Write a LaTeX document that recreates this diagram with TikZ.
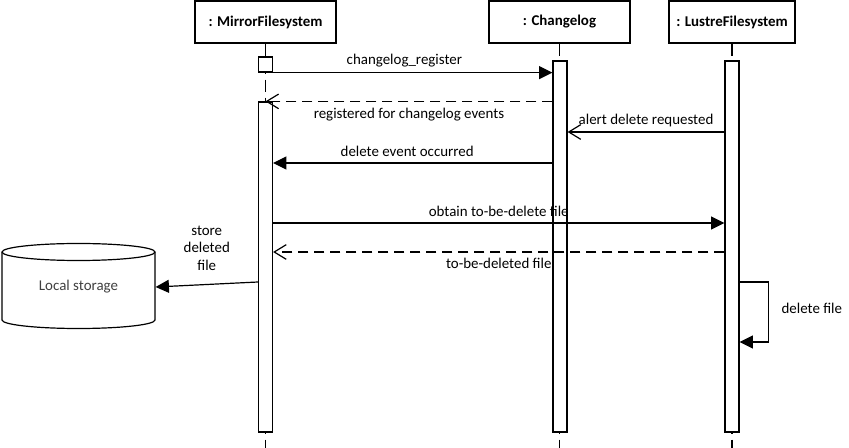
\documentclass[tikz,border=0pt]{standalone}
\usepackage{fontspec}
\setmainfont{Carlito}
\usetikzlibrary{arrows.meta}

\begin{document}
\begin{tikzpicture}[x=0.75pt,y=-0.75pt,line width=0.9pt,
  font=\fontsize{11.2}{13}\selectfont,
  head/.style={draw,fill=white,minimum width=105.75pt,minimum height=31.5pt,inner sep=0pt,font=\fontsize{11.2}{13}\selectfont\bfseries},
  bar/.style={draw,fill=white,minimum width=10.5pt,inner sep=0pt},
  life/.style={dash pattern=on 9pt off 4.5pt},
  call/.style={-{Triangle[length=10pt,width=9.75pt]}},
  ret/.style={-{Straight Barb[length=9pt,width=11pt]}},
  retdash/.style={ret,dash pattern=on 7.5pt off 4.5pt},
]
\useasboundingbox (0,0) rectangle (849,448);

%uncomment if require: \path (0,448);
\coordinate (bottom) at (0,448);

% Text Node
\node[head] (mfs) at (265.5,22) {: MirrorFilesystem};
\node[head] (cl) at (559.5,22) {: Changelog};
\node[head,minimum width=94.5pt] (lfs) at (732,22) {: LustreFilesystem};

%Straight Lines
\draw[life] (mfs.south) -- (mfs.south |- bottom);
\draw[life] (cl.south) -- (cl.south |- bottom);
\draw[life] (lfs.south) -- (lfs.south |- bottom);

%Shape: Rectangle
\node[bar,minimum height=11.25pt] (mfsInit) at (265.5,64.5) {};
\node[bar,minimum height=247.5pt] (mfsAct) at (265.5,267) {};
\node[bar,minimum height=278.25pt] (clAct) at (560,246.5) {};
\node[bar,minimum height=278.25pt] (lfsAct) at (732,246.5) {};

%Shape: Can
\draw[fill=white] (2,252) -- (2,320) arc[start angle=180,end angle=360,x radius=57.375pt,y radius=6.375pt] -- (155,252) arc[start angle=0,end angle=180,x radius=57.375pt,y radius=6.375pt] -- cycle ;
\draw (2,252) arc[start angle=180,end angle=360,x radius=57.375pt,y radius=6.375pt] ;
\node[minimum width=114.75pt,minimum height=60pt,inner sep=0pt,text=black!75] (storage) at (78.5,287) {Local storage};

% message rows
\coordinate (m3) at (0,132);
\coordinate (m4) at (0,163);
\coordinate (m5) at (0,223);
\coordinate (m6) at (0,252);
\coordinate (m7) at (0,282);
\coordinate (m8) at (0,342);

%Straight Lines
\draw[call] (mfsInit.south east) -- (mfsInit.south east -| clAct.west) node[pos=0.47,above=0.5pt] {changelog\_register};
\draw[retdash] (clAct.west |- mfsAct.north) -- (mfsAct.north) node[pos=0.5,below=1.2pt] {registered for changelog events};
\draw[ret] (lfsAct.west |- m3) -- (clAct.east |- m3) node[midway,above=0pt] {alert delete requested};
\draw[call] (clAct.west |- m4) -- (mfsAct.east |- m4) node[pos=0.52,above=1.2pt] {delete event occurred};
\draw[call] (mfsAct.east |- m5) -- (lfsAct.west |- m5) node[midway,above=1.2pt] {obtain to-be-delete file};
\draw[retdash] (lfsAct.west |- m6) -- (mfsAct.east |- m6) node[midway,below=0.5pt] {to-be-deleted file};
\draw[call] (mfsAct.west |- m7) -- (storage.east) node[midway,above=7pt,align=center] {store\\deleted\\file};
\draw[call] (lfsAct.east |- m7) -- ++(29,0) |- (lfsAct.east |- m8) node[pos=0.22,right=6pt] {delete file};

\end{tikzpicture}
\end{document}
